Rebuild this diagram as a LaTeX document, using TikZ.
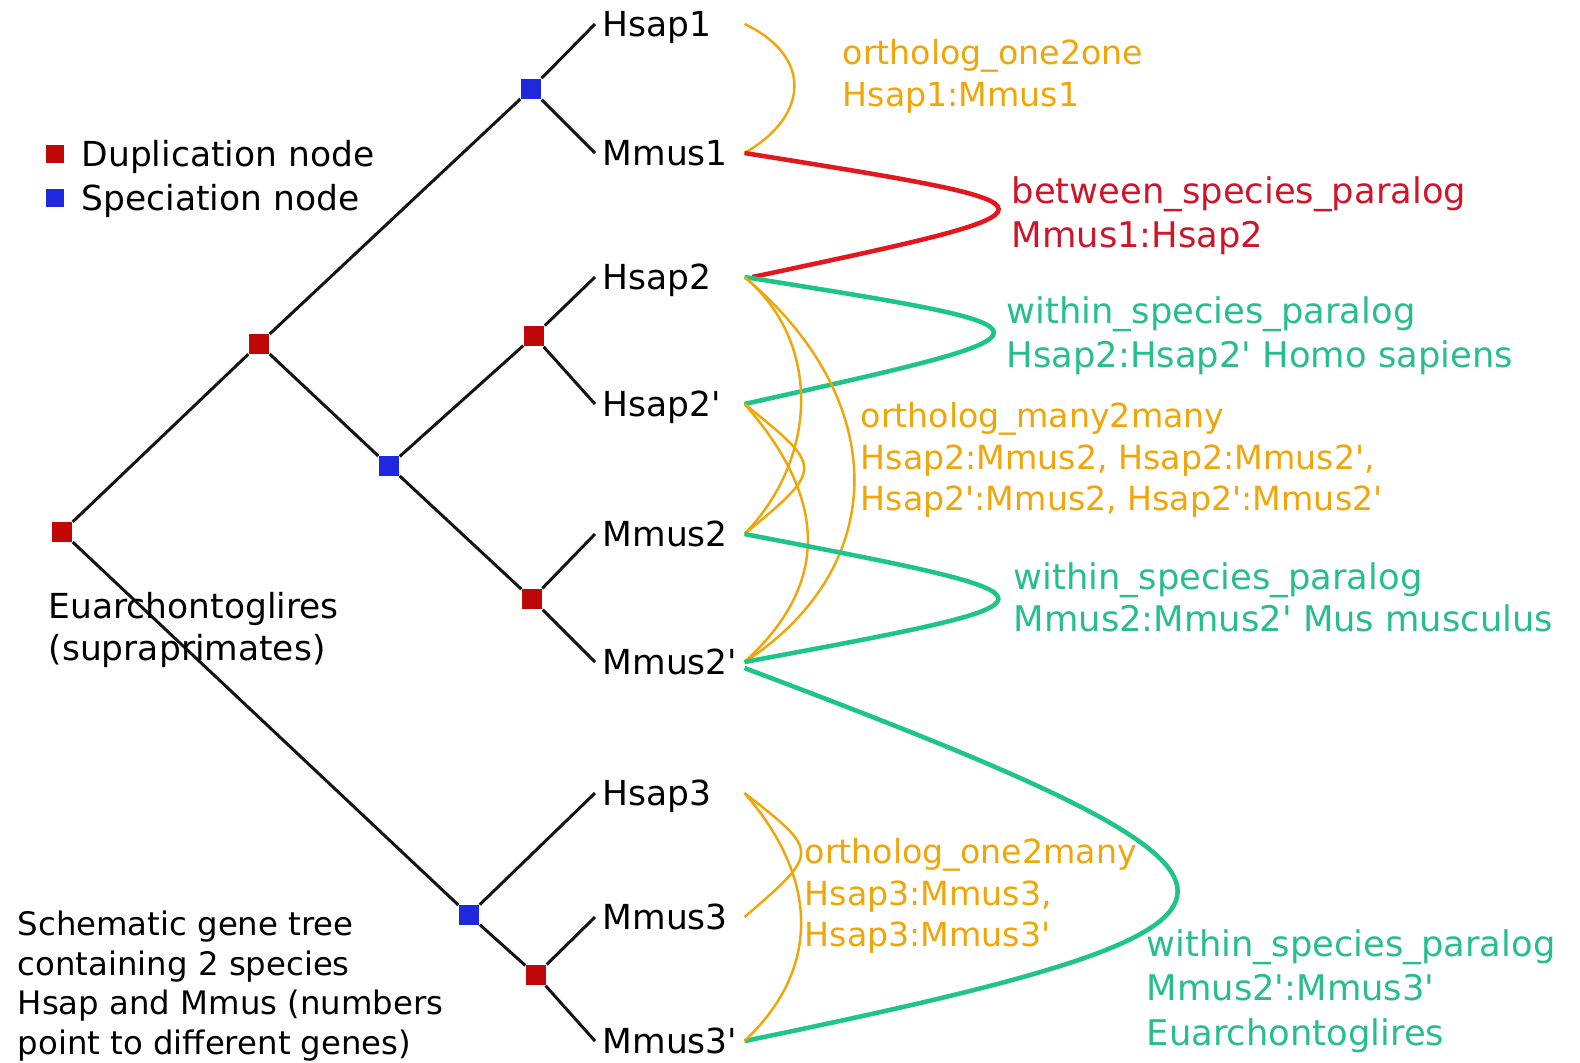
\documentclass[tikz,border=0pt]{standalone}
\usepackage{fontspec}
\setmainfont{DejaVu Sans}[Ligatures=TeXOff]
\definecolor{dupred}{RGB}{192,8,8}
\definecolor{specblue}{RGB}{32,40,222}
\definecolor{orthoorange}{RGB}{240,166,10}
\definecolor{betweenred}{RGB}{226,24,30}
\definecolor{betweentext}{RGB}{206,22,42}
\definecolor{withingreen}{RGB}{30,196,136}
\definecolor{withintext}{RGB}{40,190,140}

\tikzset{
  branch/.style={draw=black!92, line width=0.85pt},
  dupnode/.style={fill=dupred, minimum size=0.2cm, inner sep=0pt},
  specnode/.style={fill=specblue, minimum size=0.2cm, inner sep=0pt},
  gene/.style={anchor=west, text width=1.34cm, inner xsep=0.07cm, inner ysep=0pt,
    text height=0.73em, text depth=0pt},
  plain/.style={anchor=west, inner sep=0pt, text height=0.73em, text depth=0pt},
  orthoc/.style={draw=orthoorange, line width=0.7pt},
  parared/.style={draw=betweenred, line width=1.3pt},
  paragreen/.style={draw=withingreen, line width=1.3pt},
  lbl/.style={anchor=north west, align=left, inner sep=0pt},
  ortholbl/.style={lbl, text=orthoorange, font=\fontsize{9.45}{11.7}\selectfont},
  paralbl/.style={lbl, font=\fontsize{10.05}{12.6}\selectfont},
}

\begin{document}
\begin{tikzpicture}[x=0.01cm, y=-0.01cm, font=\fontsize{9.8}{11.7}\selectfont]
  \useasboundingbox (0,0) rectangle (1580,1062);

  % legend
  \node[dupnode, minimum size=0.18cm] (legdup) at (55,154) {};
  \node[plain] (legduptxt) at (81,154) {Duplication node};
  \node[specnode, minimum size=0.18cm] (legspec) at (55,198) {};
  \node[plain] (legspectxt) at (81,198) {Speciation node};

  % inner nodes of the gene tree
  \node[dupnode] (root) at (62,532) {};
  \node[dupnode] (dupA) at (259,344) {};
  \node[specnode] (spec1) at (531,89) {};
  \node[specnode] (specB) at (389,466) {};
  \node[dupnode] (dupC) at (534,336) {};
  \node[dupnode] (dupD) at (532,599) {};
  \node[specnode] (specE) at (469,915) {};
  \node[dupnode] (dupF) at (536,975) {};

  % genes
  \node[gene] (hsap1) at (595,24) {Hsap1};
  \node[gene] (mmus1) at (595,153) {Mmus1};
  \node[gene] (hsap2) at (595,277) {Hsap2};
  \node[gene] (hsap2p) at (595,404) {Hsap2'};
  \node[gene] (mmus2) at (595,534) {Mmus2};
  \node[gene] (mmus2p) at (595,662) {Mmus2'};
  \node[gene] (hsap3) at (595,793) {Hsap3};
  \node[gene] (mmus3) at (595,917) {Mmus3};
  \node[gene] (mmus3p) at (595,1041) {Mmus3'};

  % branches
  \draw[branch] (root) -- (dupA);
  \draw[branch] (root) -- (specE);
  \draw[branch] (dupA) -- (spec1);
  \draw[branch] (dupA) -- (specB);
  \draw[branch] (spec1) -- (hsap1.west);
  \draw[branch] (spec1) -- (mmus1.west);
  \draw[branch] (specB) -- (dupC);
  \draw[branch] (specB) -- (dupD);
  \draw[branch] (dupC) -- (hsap2.west);
  \draw[branch] (dupC) -- (hsap2p.west);
  \draw[branch] (dupD) -- (mmus2.west);
  \draw[branch] (dupD) -- (mmus2p.west);
  \draw[branch] (specE) -- (hsap3.west);
  \draw[branch] (specE) -- (dupF);
  \draw[branch] (dupF) -- (mmus3.west);
  \draw[branch] (dupF) -- (mmus3p.west);

  % left texts
  \node[lbl] (clade) at (48,592) {Euarchontoglires\\(supraprimates)};
  \node[lbl, font=\fontsize{9.2}{11.3}\selectfont] (caption) at (17,910)
    {Schematic gene tree\\containing 2 species\\Hsap and Mmus (numbers\\point to different genes)};

  % relations
  \draw[orthoc] (hsap1.east) .. controls (811,55) and (811,115) .. (mmus1.east);
  \draw[parared] (mmus1.east) .. controls (1082,207) .. ([xshift=0.08cm]hsap2.east);
  \draw[paragreen] (hsap2.east) .. controls (1077,330) .. (hsap2p.east);
  \draw[orthoc] (hsap2.east) .. controls (820,340) and (820,456) .. (mmus2.east);
  \draw[orthoc] (hsap2.east) .. controls (891,400) and (891,567) .. (mmus2p.east);
  \draw[orthoc] (hsap2p.east) .. controls (824,468) .. (mmus2.east);
  \draw[orthoc] (hsap2p.east) .. controls (829,500) and (829,585) .. (mmus2p.east);
  \draw[paragreen] (mmus2.east) .. controls (1083,599) .. (mmus2p.east);
  \draw[paragreen] ([yshift=-0.06cm]mmus2p.east) .. controls (1322,885) and (1322,922) .. (mmus3p.east);
  \draw[orthoc] (hsap3.east) .. controls (820,852) .. (mmus3.east);
  \draw[orthoc] (hsap3.east) .. controls (820,880) and (820,970) .. (mmus3p.east);

  % relation labels
  \node[ortholbl] (one2one) at (842,39) {ortholog\_one2one\\Hsap1:Mmus1};
  \node[paralbl, text=betweentext] (between) at (1011,176) {between\_species\_paralog\\Mmus1:Hsap2};
  \node[paralbl, text=withintext] (withinhs) at (1006,296) {within\_species\_paralog\\Hsap2:Hsap2' Homo sapiens};
  \node[ortholbl] (many2many) at (860,402)
    {ortholog\_many2many\\Hsap2:Mmus2, Hsap2:Mmus2',\\Hsap2':Mmus2, Hsap2':Mmus2'};
  \node[paralbl, text=withintext, font=\fontsize{10.05}{11.9}\selectfont] (withinmm) at (1013,562)
    {within\_species\_paralog\\Mmus2:Mmus2' Mus musculus};
  \node[ortholbl] (one2many) at (804,838) {ortholog\_one2many\\Hsap3:Mmus3,\\Hsap3:Mmus3'};
  \node[paralbl, text=withintext] (withineu) at (1146,929)
    {within\_species\_paralog\\Mmus2':Mmus3'\\Euarchontoglires};
\end{tikzpicture}
\end{document}
